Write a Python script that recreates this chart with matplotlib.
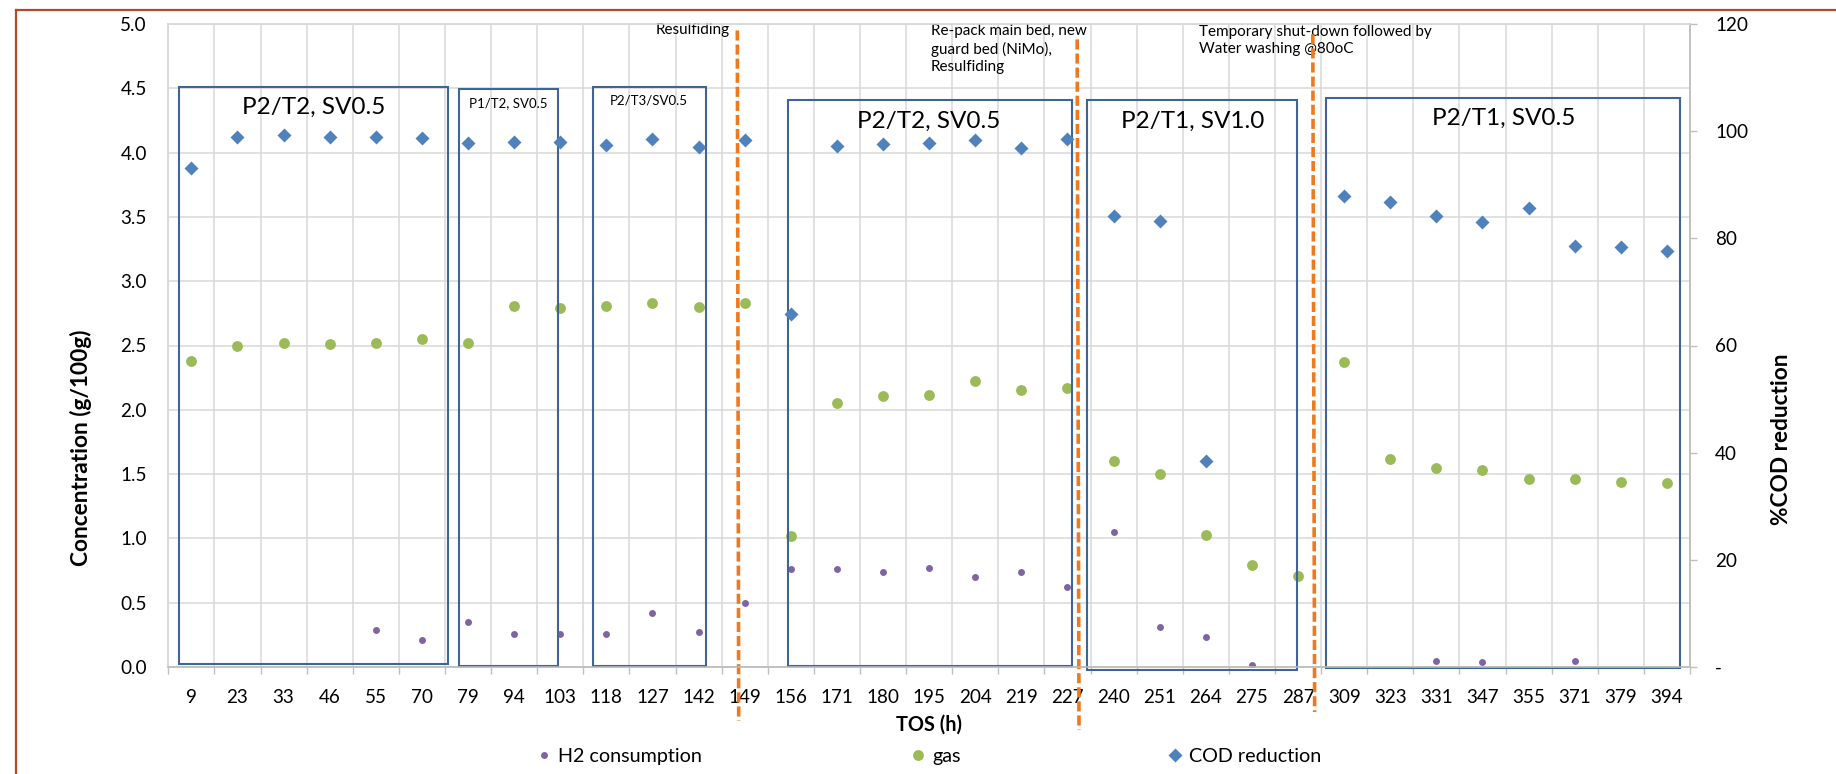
import numpy as np
import matplotlib
matplotlib.use("Agg")
import matplotlib.pyplot as plt
from matplotlib.lines import Line2D
from matplotlib.patches import Rectangle
from matplotlib.ticker import MultipleLocator, FuncFormatter

plt.rcParams["font.family"] = ["Lato", "DejaVu Sans"]

# ---- data -------------------------------------------------------------
tos_labels = ["9", "23", "33", "46", "55", "70", "79", "94", "103", "118",
              "127", "142", "149", "156", "171", "180", "195", "204", "219",
              "227", "240", "251", "264", "275", "287", "309", "323", "331",
              "347", "355", "371", "379", "394"]

nan = np.nan
h2_consumption = [nan, nan, nan, nan, 0.29, 0.21, 0.35, 0.26, 0.26, 0.26,
                  0.42, 0.27, 0.50, 0.76, 0.76, 0.74, 0.77, 0.70, 0.74,
                  0.62, 1.05, 0.31, 0.235, 0.016, nan, nan, nan, 0.044,
                  0.036, nan, 0.047, nan, nan]

gas = [2.38, 2.50, 2.52, 2.51, 2.52, 2.55, 2.52, 2.81, 2.79, 2.81,
       2.83, 2.80, 2.83, 1.02, 2.05, 2.11, 2.115, 2.225, 2.155,
       2.17, 1.605, 1.50, 1.03, 0.79, 0.71, 2.37, 1.62, 1.55,
       1.53, 1.465, 1.46, 1.435, 1.43]

cod_reduction = [93.2, 99.0, 99.3, 98.9, 98.9, 98.7, 97.7, 97.9, 98.0, 97.4,
                 98.5, 97.1, 98.3, 65.8, 97.2, 97.6, 97.7, 98.3, 96.9,
                 98.6, 84.2, 83.3, 38.5, nan, nan, 87.9, 86.8, 84.2,
                 83.0, 85.7, 78.5, 78.3, 77.6]

# operating periods: label, x-extent (category units), y-extent (g/100g)
periods = [
    ("P2/T2, SV0.5", (-0.27, 5.575), (0.023, 4.51), (2.65, 4.35), 17.5),
    ("P1/T2, SV0.5", (5.80, 7.95), (0.010, 4.494), (6.87, 4.383), 9.5),
    ("P2/T3/SV0.5", (8.71, 11.15), (0.005, 4.51), (9.93, 4.409), 9.5),
    ("P2/T2, SV0.5", (12.93, 19.09), (0.005, 4.41), (16.0, 4.245), 17.5),
    ("P2/T1, SV1.0", (19.42, 23.97), (-0.026, 4.41), (21.71, 4.245), 17.5),
    ("P2/T1, SV0.5", (24.61, 32.29), (-0.010, 4.427), (28.46, 4.263), 17.5),
]

# process interventions: marker line (x top, y top, x bottom, y bottom)
events = [
    ((11.84, 4.95), (11.87, -0.42)),
    ((19.21, 4.88), (19.25, -0.49)),
    ((24.32, 4.92), (24.36, -0.35)),
]

# ---- figure -----------------------------------------------------------
W, H = 1836, 774
fig = plt.figure(figsize=(W / 100, H / 100), dpi=100)

# outer frame
border = "#B5482A"
fig.add_artist(Line2D([15.7 / W, 15.7 / W], [1 - 10 / H, -0.05],
                      transform=fig.transFigure, color=border, lw=1.6))
fig.add_artist(Line2D([15.7 / W, 1.05], [1 - 10 / H, 1 - 10 / H],
                      transform=fig.transFigure, color=border, lw=1.6))

left, right, top, bottom = 168.3, 1690.0, 24.0, 667.0
ax = fig.add_axes([left / W, 1 - bottom / H, (right - left) / W, (bottom - top) / H])
ax2 = ax.twinx()

x = np.arange(len(tos_labels))
ax.set_xlim(-0.5, len(tos_labels) - 0.5)
ax.set_ylim(0, 5)
ax2.set_ylim(0, 120)

grid_c = "#D9D9D9"
axis_c = "#BFBFBF"
ax.yaxis.set_major_locator(MultipleLocator(0.5))
ax.yaxis.set_major_formatter(FuncFormatter(lambda v, p: f"{v:.1f}"))
ax.set_xticks(x)
ax.set_xticklabels(tos_labels)
ax.set_xticks(np.arange(-0.5, len(tos_labels)), minor=True)
ax.tick_params(axis="x", which="major", length=0, pad=15.5, labelsize=13.6)
ax.tick_params(axis="x", which="minor", length=5, width=1, color=axis_c)
ax.tick_params(axis="y", length=0, pad=15.5, labelsize=13.6)
ax.grid(True, which="minor", axis="x", color=grid_c, lw=1.1)
ax.grid(True, which="major", axis="y", color=grid_c, lw=1.1)
ax.set_axisbelow(True)

ax2.yaxis.set_major_locator(MultipleLocator(20))
ax2.yaxis.set_major_formatter(FuncFormatter(lambda v, p: "-" if v == 0 else f"{v:.0f}"))
ax2.tick_params(axis="y", length=5, width=1, color=axis_c, pad=13, labelsize=13.6)

for a in (ax, ax2):
    for side in ("left", "top"):
        a.spines[side].set_color(grid_c)
    for side in ("bottom", "right"):
        a.spines[side].set_color(axis_c)
    for s in a.spines.values():
        s.set_linewidth(1.1)

# series
h2_h, = ax.plot(x, h2_consumption, ls="none", marker="o", ms=5.0,
                color="#8064A2", mec="none", label="H2 consumption", zorder=3)
gas_h, = ax.plot(x, gas, ls="none", marker="o", ms=7.8,
                 color="#9BBB59", mec="none", label="gas", zorder=3)
cod_h, = ax2.plot(x, cod_reduction, ls="none", marker="D", ms=6.8,
                  color="#4F81BD", mec="none", label="COD reduction", zorder=3)

# operating-period boxes and labels
box_c = "#3F6597"
for label, (x0, x1), (y0, y1), (tx, ty), fs in periods:
    ax.add_patch(Rectangle((x0, y0), x1 - x0, y1 - y0, fill=False,
                           ec=box_c, lw=1.5, clip_on=False, zorder=4))
    ax.text(tx, ty, label, ha="center", va="center", fontsize=fs, color="black")

# intervention markers
for (xt, yt), (xb, yb) in events:
    ax.add_line(Line2D([xt, xb], [yt, yb], color="#F0781E", lw=2.6,
                       dashes=(2.8, 1.1), clip_on=False, zorder=5))

ax.text(11.68, 4.956, "Resulfiding", ha="right", va="center", fontsize=11)
ax.text(16.03, 4.807, "Re-pack main bed, new\nguard bed (NiMo),\nResulfiding",
        ha="left", va="center", fontsize=11, linespacing=1.3)
ax.text(21.85, 4.873, "Temporary shut-down followed by\nWater washing @80oC",
        ha="left", va="center", fontsize=11, linespacing=1.3)

# axis titles
fig.text(80.6 / W, 1 - 448 / H, "Concentration (g/100g)", rotation=90,
         ha="center", va="center", fontsize=16.3, fontweight="bold")
fig.text(1781 / W, 1 - 439 / H, "%COD reduction", rotation=90,
         ha="center", va="center", fontsize=16.3, fontweight="bold")
fig.text(929 / W, 1 - 725 / H, "TOS (h)", ha="center", va="center",
         fontsize=14.3, fontweight="bold")

# legend entries
for handle, mx in ((h2_h, 544), (gas_h, 918), (cod_h, 1175)):
    fig.legend(handles=[handle], loc="center left",
               bbox_to_anchor=((mx - 7.5) / W, 1 - 756.5 / H),
               frameon=False, fontsize=14.2, handlelength=0.8,
               handletextpad=0.3, borderpad=0, borderaxespad=0)

fig.savefig("out.png", dpi=100)
